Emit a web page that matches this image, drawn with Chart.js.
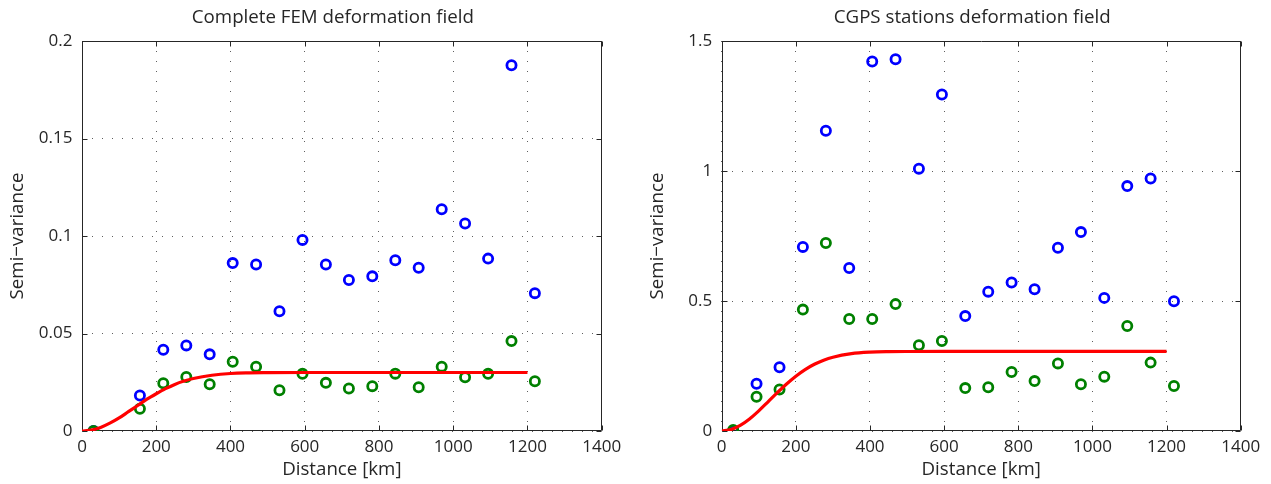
<!DOCTYPE html>
<html><head><meta charset="utf-8">
<script src="https://cdn.jsdelivr.net/npm/chart.js@4.4.1/dist/chart.umd.min.js"></script>
<style>
html,body{margin:0;padding:0;background:#fff;width:1271px;height:484px;overflow:hidden}
.wrap{position:absolute;top:0;height:484px}
#w1{left:0;width:640px}
#w2{left:640px;width:631px}
canvas{display:block}
</style></head><body>
<div class="wrap" id="w1"><canvas id="c1" width="640" height="484"></canvas></div>
<div class="wrap" id="w2"><canvas id="c2" width="631" height="484"></canvas></div>
<script>
// ---- data ----
const distances = [31, 94, 156, 219, 281, 344, 406, 469, 532, 594, 657, 719, 782, 844, 907, 969, 1032, 1094, 1157, 1220];

const femBlue  = [0, null, 0.0182, 0.0417, 0.0439, 0.0393, 0.0861, 0.0854, 0.0614, 0.0980, 0.0854, 0.0774, 0.0793, 0.0876, 0.0837, 0.1137, 0.1064, 0.0884, 0.1876, 0.0707];
const femGreen = [0, null, 0.0114, 0.0245, 0.0277, 0.0240, 0.0355, 0.0330, 0.0209, 0.0293, 0.0247, 0.0218, 0.0230, 0.0294, 0.0224, 0.0330, 0.0276, 0.0293, 0.0461, 0.0255];

const cgpsBlue  = [0, 0.182, 0.245, 0.708, 1.155, 0.627, 1.421, 1.430, 1.009, 1.294, 0.442, 0.536, 0.571, 0.545, 0.705, 0.765, 0.512, 0.942, 0.971, 0.499];
const cgpsGreen = [0.004, 0.132, 0.160, 0.467, 0.723, 0.431, 0.431, 0.488, 0.330, 0.346, 0.165, 0.168, 0.227, 0.192, 0.260, 0.180, 0.209, 0.404, 0.263, 0.173];

const modelDist = [0, 25, 50, 75, 100, 125, 150, 175, 200, 225, 250, 275, 300, 350, 400, 450, 500, 600, 1200];
const femModel  = [0, 0.0005, 0.0018, 0.0040, 0.0067, 0.0099, 0.0131, 0.0163, 0.0191, 0.0217, 0.0239, 0.0256, 0.0269, 0.0286, 0.0295, 0.0298, 0.0299, 0.0300, 0.0300];
const cgpsModel = [0, 0.0055, 0.0216, 0.0464, 0.0776, 0.1122, 0.1474, 0.1809, 0.2109, 0.2363, 0.2567, 0.2724, 0.2839, 0.2975, 0.3032, 0.3052, 0.3058, 0.3060, 0.3060];

const xTicks = [0, 200, 400, 600, 800, 1000, 1200, 1400];
const xTickLabels = ['0', '200', '400', '600', '800', '1000', '1200', '1400'];
const femYTicks = [0, 0.05, 0.1, 0.15, 0.2];
const femYTickLabels = ['0', '0.05', '0.1', '0.15', '0.2'];
const cgpsYTicks = [0, 0.5, 1, 1.5];
const cgpsYTickLabels = ['0', '0.5', '1', '1.5'];

const titles = ['Complete FEM deformation field', 'CGPS stations deformation field'];
const xLabel = 'Distance [km]';
const yLabel = 'Semi\u2212variance';

// ---- helpers ----
const FONT = "'Open Sans', 'Noto Sans', sans-serif";
const TXT = '#262626';
const TICK_SIZE = 17;
const LABEL_SIZE = 18.7;

function pts(xs, ys) {
  const out = [];
  xs.forEach((x, i) => { if (ys[i] !== null && ys[i] !== undefined) out.push({x: x, y: ys[i]}); });
  return out;
}

const boxPlugin = {
  id: 'matlabBox',
  afterLayout(chart) {
    // centre the title slightly left of the plot-box centre, as in the reference
    const tb = chart.titleBlock;
    if (tb) {
      tb.left = chart.chartArea.left - 18;
      tb.right = chart.chartArea.right;
      tb.width = tb.right - tb.left;
    }
  },
  beforeDatasetsDraw(chart) {
    const {ctx, chartArea: a, scales} = chart;
    const xs = scales.x, ys = scales.y;
    const L = Math.round(a.left) + 0.5, R = Math.round(a.right) - 0.5;
    const T = Math.round(a.top) + 0.5, B = Math.round(a.bottom) - 0.5;
    ctx.save();
    ctx.strokeStyle = TXT;
    ctx.lineWidth = 1;
    ctx.beginPath();
    ctx.rect(L, T, R - L, B - T);
    const tl = 5;
    xs.ticks.forEach(t => {
      const p = Math.round(xs.getPixelForValue(t.value)) + 0.5;
      ctx.moveTo(p, B); ctx.lineTo(p, B - tl);
      ctx.moveTo(p, T); ctx.lineTo(p, T + tl);
    });
    ys.ticks.forEach(t => {
      const p = Math.round(ys.getPixelForValue(t.value)) + 0.5;
      ctx.moveTo(L, p); ctx.lineTo(L + tl, p);
      ctx.moveTo(R, p); ctx.lineTo(R - tl, p);
    });
    ctx.stroke();
    ctx.restore();
  }
};

function makeChart(canvasId, cfg) {
  return new Chart(document.getElementById(canvasId), {
    type: 'scatter',
    data: {
      datasets: [
        {
          label: 'model', data: pts(modelDist, cfg.model), showLine: true,
          borderColor: '#ff0000', borderWidth: 3.2, pointRadius: 0,
          cubicInterpolationMode: 'monotone', fill: false, order: 0
        },
        {
          label: 'green', data: pts(distances, cfg.green), showLine: false,
          pointStyle: 'circle', pointRadius: 4.6, borderWidth: 2.8,
          borderColor: '#008000', backgroundColor: 'rgba(0,0,0,0)', order: 1
        },
        {
          label: 'blue', data: pts(distances, cfg.blue), showLine: false,
          pointStyle: 'circle', pointRadius: 4.6, borderWidth: 2.8,
          borderColor: '#0000ff', backgroundColor: 'rgba(0,0,0,0)', order: 2
        }
      ]
    },
    options: {
      responsive: false,
      animation: false,
      events: [],
      layout: {padding: {left: 0, right: cfg.padRight, top: 0, bottom: 0}},
      plugins: {
        legend: {display: false},
        tooltip: {enabled: false},
        title: {
          display: true, text: cfg.title, color: TXT,
          font: {family: FONT, size: LABEL_SIZE, weight: 'normal', lineHeight: 1.2},
          padding: {top: 6.8, bottom: 11.76}
        }
      },
      scales: {
        x: {
          type: 'linear', min: 0, max: 1400,
          afterBuildTicks: (s) => { s.ticks = xTicks.map(v => ({value: v})); },
          afterFit: (s) => { s.height = 53; },
          ticks: {
            color: TXT, padding: 6, maxRotation: 0, autoSkip: false,
            font: {family: FONT, size: TICK_SIZE, lineHeight: 1.2},
            callback: (v, i) => xTickLabels[i]
          },
          grid: {drawTicks: false, color: 'rgba(40,40,40,0.75)', lineWidth: 1},
          border: {display: false, dash: [1, 9]},
          title: {
            display: true, text: xLabel, color: TXT,
            font: {family: FONT, size: LABEL_SIZE, lineHeight: 1.2},
            padding: {top: 0, bottom: 3.1}
          }
        },
        y: {
          type: 'linear', min: cfg.yTicks[0], max: cfg.yTicks[cfg.yTicks.length - 1],
          afterBuildTicks: (s) => { s.ticks = cfg.yTicks.map(v => ({value: v})); },
          afterFit: (s) => { s.width = cfg.yWidth; },
          ticks: {
            color: TXT, padding: 9.5, autoSkip: false,
            font: {family: FONT, size: TICK_SIZE, lineHeight: 1.2},
            callback: (v, i) => cfg.yTickLabels[i]
          },
          grid: {drawTicks: false, color: 'rgba(40,40,40,0.75)', lineWidth: 1},
          border: {display: false, dash: [1, 9]},
          title: {
            display: true, text: yLabel, color: TXT,
            font: {family: FONT, size: LABEL_SIZE, lineHeight: 1.2},
            padding: {top: 6.3, bottom: 0}
          }
        }
      }
    },
    plugins: [boxPlugin]
  });
}

makeChart('c1', {
  title: titles[0], blue: femBlue, green: femGreen, model: femModel,
  yTicks: femYTicks, yTickLabels: femYTickLabels, yWidth: 82, padRight: 38.3
});
makeChart('c2', {
  title: titles[1], blue: cgpsBlue, green: cgpsGreen, model: cgpsModel,
  yTicks: cgpsYTicks, yTickLabels: cgpsYTickLabels, yWidth: 81.7, padRight: 30.3
});
</script>
</body></html>
